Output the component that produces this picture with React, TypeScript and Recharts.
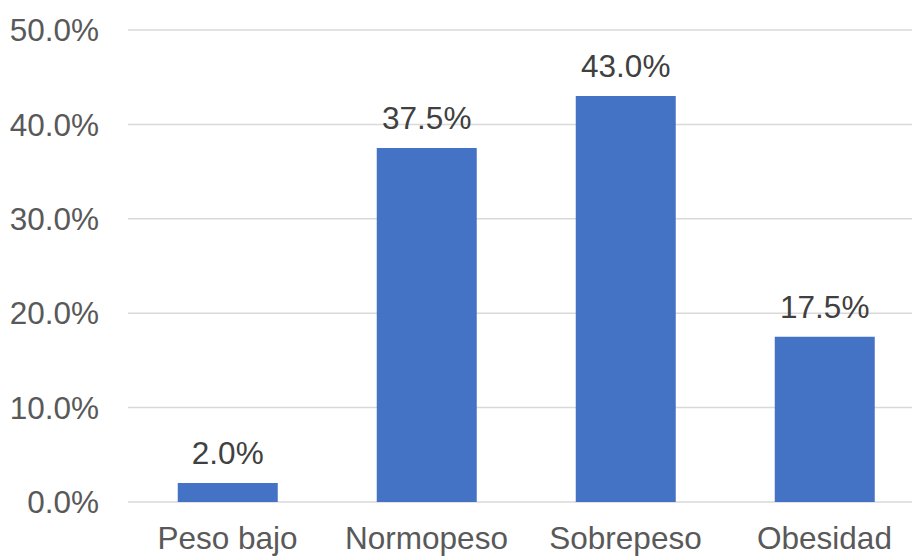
import { BarChart, Bar, XAxis, YAxis, CartesianGrid, LabelList } from 'recharts'

const categorias = ['Peso bajo', 'Normopeso', 'Sobrepeso', 'Obesidad']
const porcentajes = [2.0, 37.5, 43.0, 17.5]
const ticksY = [0, 10, 20, 30, 40, 50]

const dados = categorias.map((name, i) => ({ name, value: porcentajes[i] }))

const fmt = (v: number) => `${Number(v).toFixed(1)}%`
const fonte = '"Liberation Sans", Arial, sans-serif'

export default function App() {
  return (
    <div style={{ position: 'absolute', left: 0, top: 0, width: 912, height: 556, overflow: 'hidden', background: '#fff' }}>
      <BarChart
        width={924}
        height={556}
        data={dados}
        margin={{ top: 30, right: 0, bottom: 0, left: 0 }}
        barCategoryGap="25%"
        style={{ fontFamily: fonte }}
      >
        <CartesianGrid vertical={false} stroke="#d9d9d9" strokeWidth={1.5} />
        <XAxis
          dataKey="name"
          height={54}
          axisLine={false}
          tickLine={false}
          tickSize={0}
          tickMargin={25}
          tick={{ fill: '#595959', fontSize: 31.5, fontFamily: fonte }}
          interval={0}
        />
        <YAxis
          width={128}
          domain={[0, 50]}
          ticks={ticksY}
          axisLine={false}
          tickLine={false}
          tickSize={0}
          tickMargin={29}
          tickFormatter={fmt}
          tick={{ fill: '#595959', fontSize: 31.5, fontFamily: fonte }}
        />
        <Bar dataKey="value" fill="#4472c4" isAnimationActive={false}>
          <LabelList
            dataKey="value"
            position="top"
            offset={19}
            formatter={(v: any) => fmt(v)}
            fill="#404040"
            fontSize={31.5}
            fontFamily={fonte}
          />
        </Bar>
      </BarChart>
    </div>
  )
}
